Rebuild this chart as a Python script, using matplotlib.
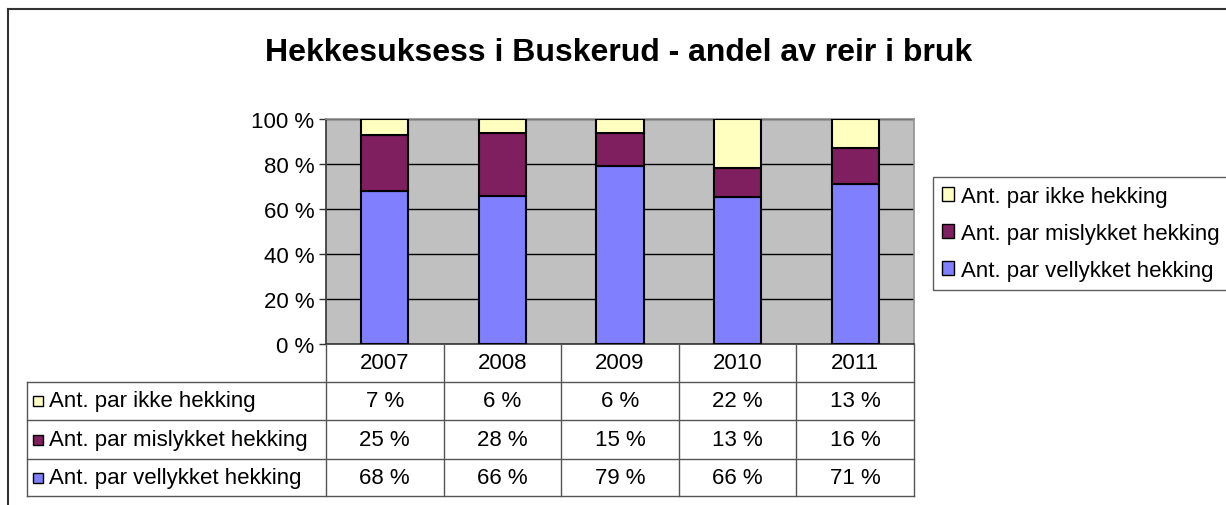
import numpy as np
import matplotlib
matplotlib.use("Agg")
import matplotlib.pyplot as plt
from matplotlib.patches import Rectangle
from matplotlib.lines import Line2D

plt.rcParams['font.family'] = ['Liberation Sans', 'DejaVu Sans']

years = ['2007', '2008', '2009', '2010', '2011']
series = ['Ant. par ikke hekking', 'Ant. par mislykket hekking', 'Ant. par vellykket hekking']
ikke = [7, 6, 6, 22, 13]
mislykket = [25, 28, 15, 13, 16]
vellykket = [68, 66, 79, 66, 71]
colors = ['#FFFFC0', '#7F1F5F', '#8080FF']

W, H = 1226, 506
fs = 16
fig = plt.figure(figsize=(W / 100, H / 100), dpi=100)

def fx(x):
    return x / W

def fy(y):
    return 1 - y / H

# outer chart border (clipped at right and bottom)
fig.add_artist(Line2D([fx(8), 1], [fy(10), fy(10)], color='#333333', lw=1.5))
fig.add_artist(Line2D([fx(8), fx(8)], [fy(10), 0], color='#333333', lw=1.5))

fig.text(fx(619), fy(53), 'Hekkesuksess i Buskerud - andel av reir i bruk',
         ha='center', va='center', fontsize=23, fontweight='bold')

# plot area
pl, pr, pt, pb = 326, 914, 120, 345
ax = fig.add_axes([fx(pl), fy(pb), fx(pr - pl), (pb - pt) / H])
ax.set_facecolor('#C0C0C0')

x = np.arange(len(years))
tot = np.array(ikke) + np.array(mislykket) + np.array(vellykket)
v = np.array(vellykket) / tot * 100
m = np.array(mislykket) / tot * 100
k = np.array(ikke) / tot * 100
ax.bar(x, v, width=0.4, color=colors[2], edgecolor='black', linewidth=1.5, zorder=3)
ax.bar(x, m, width=0.4, bottom=v, color=colors[1], edgecolor='black', linewidth=1.5, zorder=3)
ax.bar(x, k, width=0.4, bottom=v + m, color=colors[0], edgecolor='black', linewidth=1.5, zorder=3)

ax.set_xlim(-0.5, len(years) - 0.5)
ax.set_ylim(0, 100)
ax.set_yticks(range(0, 101, 20))
ax.set_yticklabels([f'{t} %' for t in range(0, 101, 20)], fontsize=fs)
ax.set_xticks([])
ax.tick_params(axis='y', length=5, width=1, pad=3.5, color='#333333')
ax.yaxis.grid(True, color='black', lw=1, zorder=1)
ax.set_axisbelow(True)
for s in ['top', 'right']:
    ax.spines[s].set_color('#909090')
ax.spines['left'].set_color('#333333')
ax.spines['bottom'].set_color('#333333')
for s in ax.spines.values():
    s.set_linewidth(1.2)

# data table
tl = 27
rows_y = [345, 383, 421, 460, 497]
colw = (pr - pl) / len(years)
lc = '#555555'
for yy in rows_y[1:]:
    fig.add_artist(Line2D([fx(tl), fx(pr)], [fy(yy), fy(yy)], color=lc, lw=1))
fig.add_artist(Line2D([fx(tl), fx(tl)], [fy(rows_y[1]), fy(rows_y[-1])], color=lc, lw=1))
for i in range(len(years) + 1):
    xx = pl + i * colw
    fig.add_artist(Line2D([fx(xx), fx(xx)], [fy(rows_y[0]), fy(rows_y[-1])], color=lc, lw=1))

for i, yr in enumerate(years):
    cx = pl + (i + 0.5) * colw
    fig.text(fx(cx), fy((rows_y[0] + rows_y[1]) / 2), yr, ha='center', va='center', fontsize=fs)

table_vals = [ikke, mislykket, vellykket]
for r, (name, vals, c) in enumerate(zip(series, table_vals, colors)):
    cy = (rows_y[r + 1] + rows_y[r + 2]) / 2
    fig.add_artist(Rectangle((fx(33), fy(cy + 5)), fx(10), 10 / H, facecolor=c,
                             edgecolor='black', lw=1, transform=fig.transFigure))
    fig.text(fx(49), fy(cy), name, ha='left', va='center', fontsize=fs)
    for i, val in enumerate(vals):
        cx = pl + (i + 0.5) * colw
        fig.text(fx(cx), fy(cy), f'{val} %', ha='center', va='center', fontsize=fs)

# legend
handles = [Rectangle((0, 0), 1, 1, facecolor=c, edgecolor='black', lw=1) for c in colors]
leg = fig.legend(handles, series, loc='upper left', bbox_to_anchor=(fx(933), fy(178)),
                 fontsize=fs, frameon=True, fancybox=False, handlelength=0.55,
                 handleheight=0.55, handletextpad=0.3, borderpad=0.4, labelspacing=0.72,
                 borderaxespad=0)
leg.get_frame().set_edgecolor('#333333')
leg.get_frame().set_linewidth(1)

fig.savefig('out.png', dpi=100)
